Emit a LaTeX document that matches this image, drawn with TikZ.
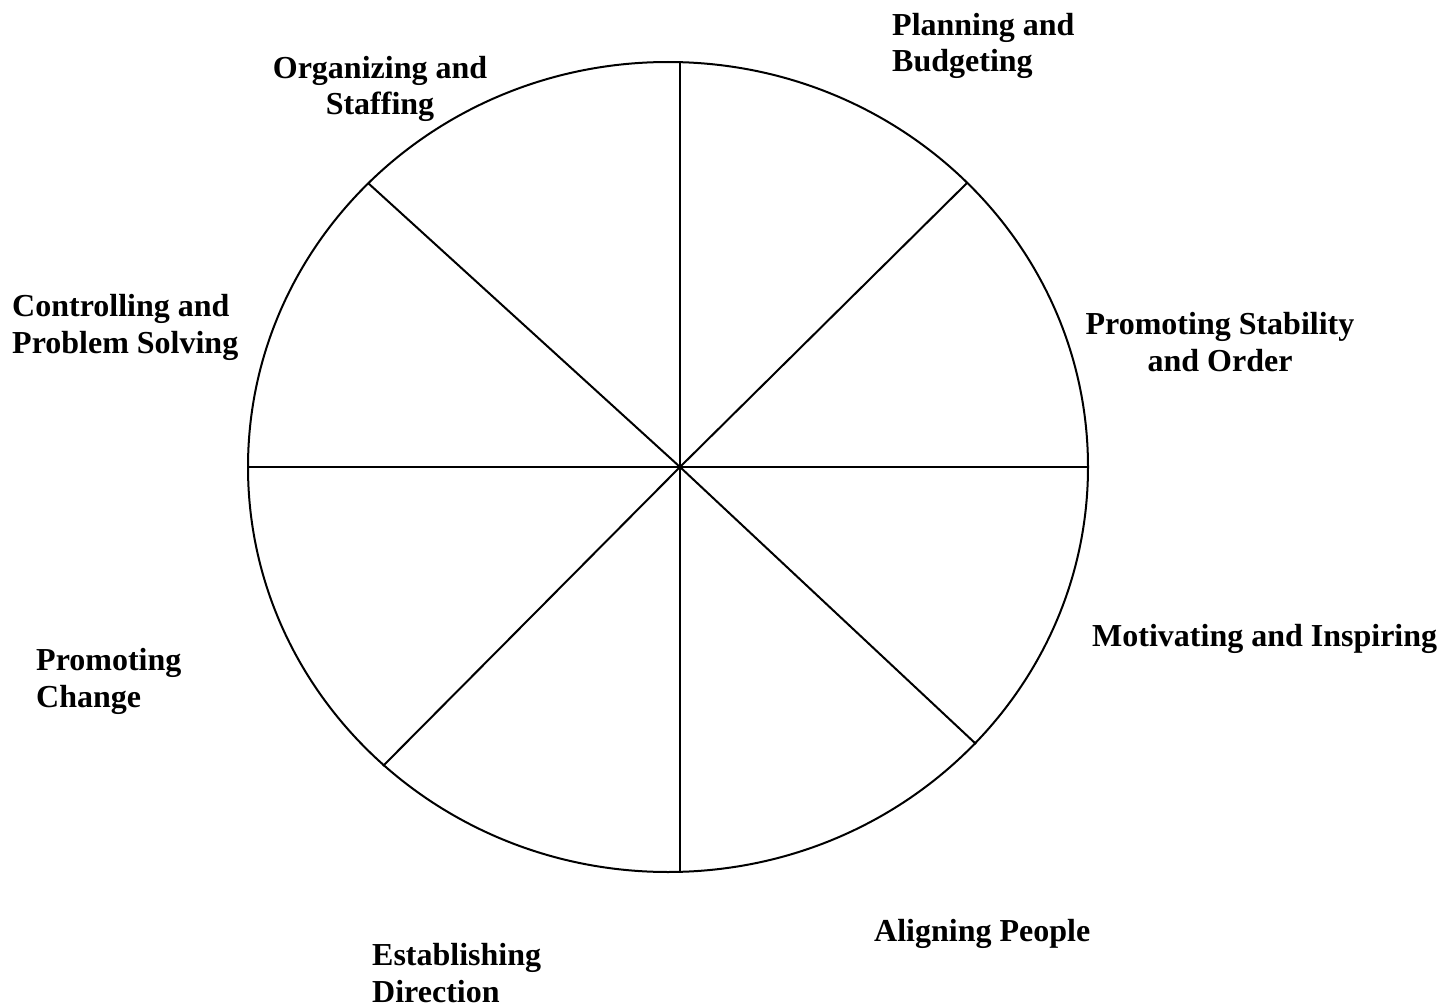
\documentclass[tikz,border=0pt]{standalone}
\usepackage{fontspec}
\setmainfont{Liberation Serif}
\begin{document}
\begin{tikzpicture}[x=1pt,y=-1pt,
  lbl/.style={inner sep=0pt,font=\bfseries\fontsize{32}{36.8}\selectfont},
  spoke/.style={line width=2pt,black}]
\useasboundingbox (0,0) rectangle (1449,1006);
\coordinate (e) at (668,467);
\coordinate (c) at (680,467);
\draw[spoke] (e) ellipse [x radius=420, y radius=405];
\coordinate (t) at (680,62);
\coordinate (b) at (680,872);
\coordinate (l) at (248,467);
\coordinate (r) at (1088,467);
\coordinate (ur) at (967,183);
\coordinate (lr) at (976,744);
\coordinate (ul) at (368,183);
\coordinate (ll) at (383,766);
\draw[spoke] (c) -- (t);
\draw[spoke] (c) -- (b);
\draw[spoke] (c) -- (l);
\draw[spoke] (c) -- (r);
\draw[spoke] (c) -- (ur);
\draw[spoke] (c) -- (lr);
\draw[spoke] (c) -- (ul);
\draw[spoke] (c) -- (ll);
\node[lbl,anchor=base west,align=left] (pb) at (892,72) {Planning and\\Budgeting};
\node[lbl,anchor=base,align=center] (os) at (380,115) {Organizing and\\Staffing};
\node[lbl,anchor=base west,align=left] (cp) at (12,353) {Controlling and\\Problem Solving};
\node[lbl,anchor=base,align=center] (ps) at (1220,371) {Promoting Stability\\and Order};
\node[lbl,anchor=base west,align=left] (mi) at (1092,646) {Motivating and Inspiring};
\node[lbl,anchor=base west,align=left] (pc) at (36,707) {Promoting\\Change};
\node[lbl,anchor=base west,align=left] (ap) at (874,941) {Aligning People};
\node[lbl,anchor=base west,align=left] (ed) at (372,1002) {Establishing\\Direction};
\end{tikzpicture}
\end{document}
